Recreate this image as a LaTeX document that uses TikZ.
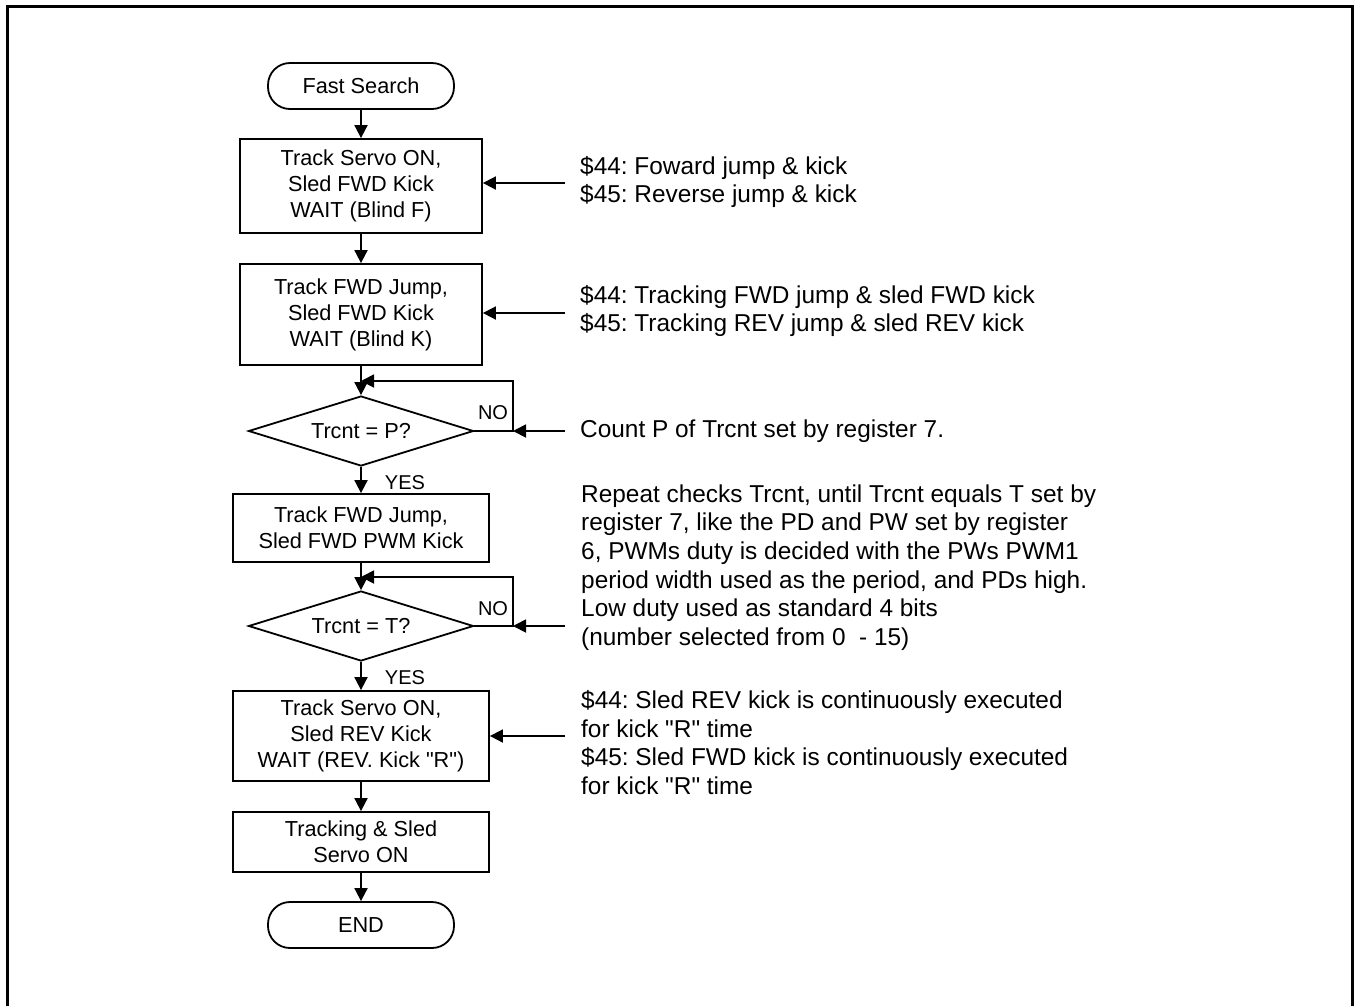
\documentclass[tikz,border=0pt]{standalone}
\usepackage{fontspec}
\setmainfont{Liberation Sans}
\newfontfamily\plainquotefont{Liberation Sans}
\usetikzlibrary{arrows.meta,shapes.geometric}
\newcommand\straightquote{{\plainquotefont"}}
\frenchspacing
\begin{document}
\begin{tikzpicture}[x=1pt,y=-1pt,
  boxfont/.style={font=\fontsize{21.7}{26}\selectfont},
  notefont/.style={font=\fontsize{24.4}{28.6}\selectfont},
  procbox/.style={draw,line width=1.8pt,rectangle,align=center,boxfont,inner sep=0pt},
  termbox/.style={draw,line width=1.8pt,rectangle,rounded corners=22pt,boxfont,minimum width=186pt,minimum height=46pt},
  decbox/.style={draw,line width=1.8pt,diamond,shape aspect=3.2,inner sep=0pt,minimum width=225pt,minimum height=70pt,boxfont},
  arr/.style={line width=1.8pt,-{Triangle[length=13pt,width=13pt]}},
  note/.style={align=left,anchor=west,notefont,inner sep=0pt},
  lbl/.style={font=\fontsize{20}{24}\selectfont,inner sep=0pt}
]
\useasboundingbox (0,0) rectangle (1357,1005);
% outer frame, open at the bottom
\draw[line width=3pt] (7,1012) -- (7,6) -- (1352,6) -- (1352,1012);

% flow chart
\node[termbox] (start) at (361,86) {Fast Search};
\node[procbox,minimum width=242pt,minimum height=94pt] (b1) at (361,186) {Track Servo ON,\\Sled FWD Kick\\WAIT (Blind F)};
\node[procbox,minimum width=242pt,minimum height=101pt] (b2) at (361,314.5) {Track FWD Jump,\\Sled FWD Kick\\WAIT (Blind K)};
\node[decbox] (d1) at (361,431) {Trcnt = P?};
\node[procbox,minimum width=256pt,minimum height=68pt] (b3) at (361,528) {Track FWD Jump,\\Sled FWD PWM Kick};
\node[decbox] (d2) at (361,626) {Trcnt = T?};
\node[procbox,minimum width=256pt,minimum height=90pt] (b4) at (361,736) {Track Servo ON,\\Sled REV Kick\\WAIT (REV. Kick \straightquote R\straightquote)};
\node[procbox,minimum width=256pt,minimum height=60pt] (b5) at (361,842) {Tracking \& Sled\\Servo ON};
\node[termbox] (end) at (361,925) {END};

\draw[arr] (start) -- (b1);
\draw[arr] (b1) -- (b2);
\draw[arr] (b2) -- (d1);
\draw[arr] (d1) -- (b3);
\draw[arr] (b3) -- (d2);
\draw[arr] (d2) -- (b4);
\draw[arr] (b4) -- (b5);
\draw[arr] (b5) -- (end);

% loop-back paths of the two decisions
\coordinate (l1r) at (513,431);
\coordinate (l1c) at (513,381);
\coordinate (l2r) at (513,626);
\coordinate (l2c) at (513,577);
\draw[arr] (d1.east) -- (l1r) -- (l1c) -- (l1c -| d1.north);
\draw[arr] (d2.east) -- (l2r) -- (l2c) -- (l2c -| d2.north);

\node[lbl] (no1) at (493,413) {NO};
\node[lbl] (no2) at (493,609) {NO};
\node[lbl] (yes1) at (405,483) {YES};
\node[lbl] (yes2) at (405,678) {YES};

% notes and their arrows
\node[note] (t1) at (580,182) {\$44: Foward jump \& kick\\\$45: Reverse jump \& kick};
\node[note] (t2) at (580,311) {\$44: Tracking FWD jump \& sled FWD kick\\\$45: Tracking REV jump \& sled REV kick};
\node[note] (t3) at (580,431) {Count P of Trcnt set by register 7.};
\node[note] (t4) at (581,567.5) {Repeat checks Trcnt, until Trcnt equals T set by\\register 7, like the PD and PW set by register\\6, PWMs duty is decided with the PWs PWM1\\period width used as the period, and PDs high.\\Low duty used as standard 4 bits\\(number selected from 0~ - 15)};
\node[note] (t5) at (581,742.5) {\$44: Sled REV kick is continuously executed\\for kick \straightquote R\straightquote{} time\\\$45: Sled FWD kick is continuously executed\\for kick \straightquote R\straightquote{} time};

\coordinate (a1) at (565,183);
\coordinate (a2) at (565,313);
\coordinate (a3) at (565,431);
\coordinate (a4) at (565,626);
\coordinate (a5) at (565,736);
\draw[arr] (a1) -- (a1 -| b1.east);
\draw[arr] (a2) -- (a2 -| b2.east);
\draw[arr] (a3) -- (l1r);
\draw[arr] (a4) -- (l2r);
\draw[arr] (a5) -- (a5 -| b4.east);
\end{tikzpicture}
\end{document}
